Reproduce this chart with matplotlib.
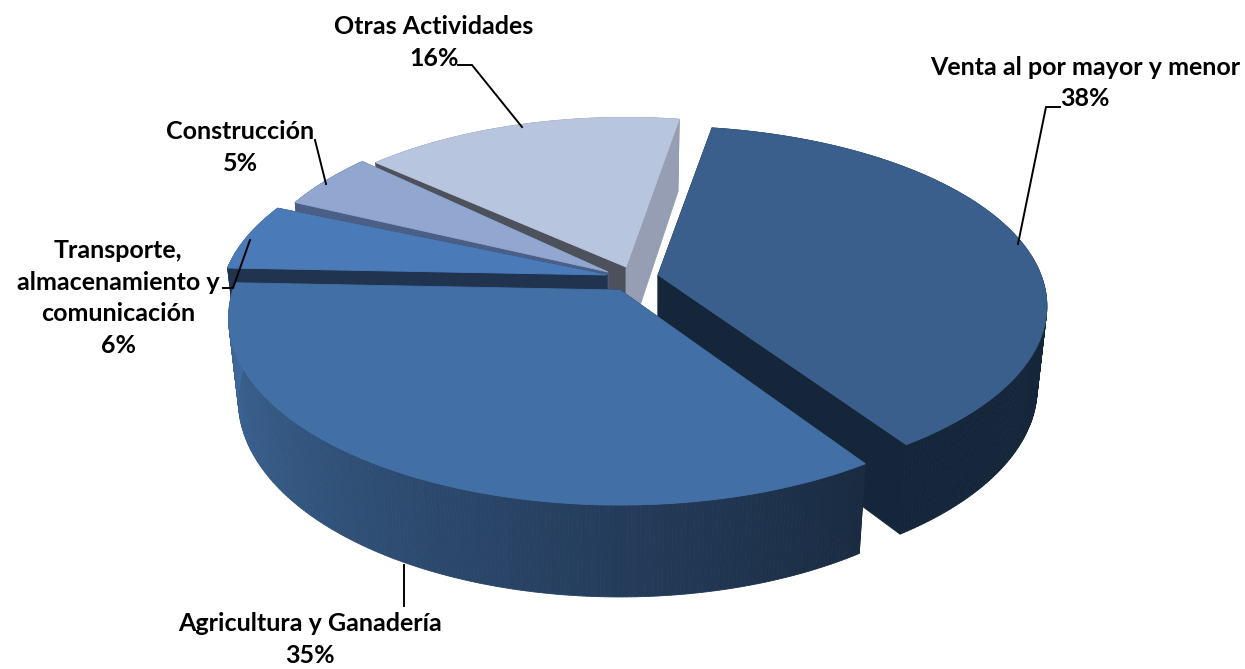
import numpy as np
import matplotlib
matplotlib.use("Agg")
import matplotlib.pyplot as plt
from matplotlib.patches import Polygon
from matplotlib.colors import to_rgb

# ---- data ----
categories = ["Venta al por mayor y menor", "Agricultura y Ganadería",
              "Transporte,\nalmacenamiento y\ncomunicación", "Construcción", "Otras Actividades"]
shares = [38, 35, 6, 5, 16]

# ---- layout / style ----
START_DEG = 9.5
XS, YS, DEPTH = 0.975, 1.053, 80.5   # lower rim relative to upper rim
# apex x, apex y, a, b, k (perspective)
geom = [
    (658, 275, 383, 174.6, 0.173),
    (620, 290, 387, 182.8, 0.150),
    (607, 275, 382, 175.0, 0.150),
    (608, 272, 363, 182.0, 0.150),
    (626, 267, 370, 172.0, 0.150),
]
top_col = ["#3a5f8d", "#4270a6", "#4a7bb8", "#92a7cf", "#b8c5de"]
rad_start = ["#16263a", "#1a2b42", "#203450", "#4b5f86", "#4d515c"]  # face at slice start
rad_end = ["#16263a", "#1a2b42", "#203450", "#4b5f86", "#959eb2"]    # face at slice end
side_grad = [("#16263a", "#16263a"), ("#1a2b42", "#406b9e"), ("#3f6a9c", "#4a7bb8"),
             ("#5d6f95", "#5d6f95"), ("#7d89a0", "#7d89a0")]
draw_order = [4, 3, 2, 0, 1]

fig = plt.figure(figsize=(12.45, 6.69), dpi=100, facecolor="white")
ax = fig.add_axes([0, 0, 1, 1])
ax.set_xlim(0, 1245)
ax.set_ylim(669, 0)
ax.axis("off")

edges = START_DEG + np.concatenate([[0], np.cumsum(shares)]) * 360.0 / sum(shares)


def rim(phi_deg, g):
    """Upper rim points of a slice for clockwise-from-top angles."""
    ax0, ay0, a, b, k = g
    p = np.radians(phi_deg)
    u, v = np.sin(p), -np.cos(p)
    d = 1 - k * v
    return a * u / d, b * v / d


def lower(x, y):
    return x * XS, y * YS + DEPTH


def poly(pts, color, z, **kw):
    ax.add_patch(Polygon(pts, closed=True, facecolor=color, edgecolor=color,
                         linewidth=0.6, zorder=z, **kw))


z = 1
for i in draw_order:
    g = geom[i]
    x0, y0 = g[0], g[1]
    phi = np.linspace(edges[i], edges[i + 1], 220)
    rx, ry = rim(phi, g)
    lx, ly = lower(rx, ry)

    def radial_faces(z):
        for idx, col in ((0, rad_start[i]), (-1, rad_end[i])):
            poly([(x0, y0), (x0 + rx[idx], y0 + ry[idx]),
                  (x0 + lx[idx], y0 + ly[idx]), (x0, y0 + DEPTH)], col, z)
            z += 1
        return z

    def outer_wall(z):
        c0, c1 = map(np.array, map(to_rgb, side_grad[i]))
        for j in range(len(phi) - 1):
            t = j / (len(phi) - 2)
            col = tuple(c0 + (c1 - c0) * t)
            poly([(x0 + rx[j], y0 + ry[j]), (x0 + rx[j + 1], y0 + ry[j + 1]),
                  (x0 + lx[j + 1], y0 + ly[j + 1]), (x0 + lx[j], y0 + ly[j])], col, z)
        return z + 1

    # a slice whose rim faces the viewer hides its radial faces behind the wall
    faces_viewer = -np.cos(np.radians(phi.mean())) > 0
    if faces_viewer:
        z = outer_wall(radial_faces(z))
    else:
        z = radial_faces(outer_wall(z))

    # top surface
    poly(np.vstack([[x0, y0], np.c_[x0 + rx, y0 + ry]]), top_col[i], z)
    z += 1

# ---- leader lines ----
leaders = [
    [(458, 65), (472, 65), (522, 127)],
    [(1060, 107), (1046, 107), (1018, 244)],
    [(315, 140), (326, 184)],
    [(223, 288), (233, 288), (250, 240)],
    [(404, 565), (404, 606)],
]
for pts in leaders:
    xs, ys = zip(*pts)
    ax.plot(xs, ys, color="black", lw=1.4, zorder=z, solid_joinstyle="miter")

# ---- labels ----
label_pos = [(1085, 83), (310, 639.5), (118, 298), (240, 147.5), (434, 42.5)]
for name, val, (lx_, ly_) in zip(categories, shares, label_pos):
    ax.text(lx_, ly_, f"{name}\n{val}%", ha="center", va="center", family="Lato",
            fontweight="bold", fontsize=18, linespacing=1.45, color="black", zorder=z + 1)

fig.savefig("out.png", dpi=100, facecolor="white")
